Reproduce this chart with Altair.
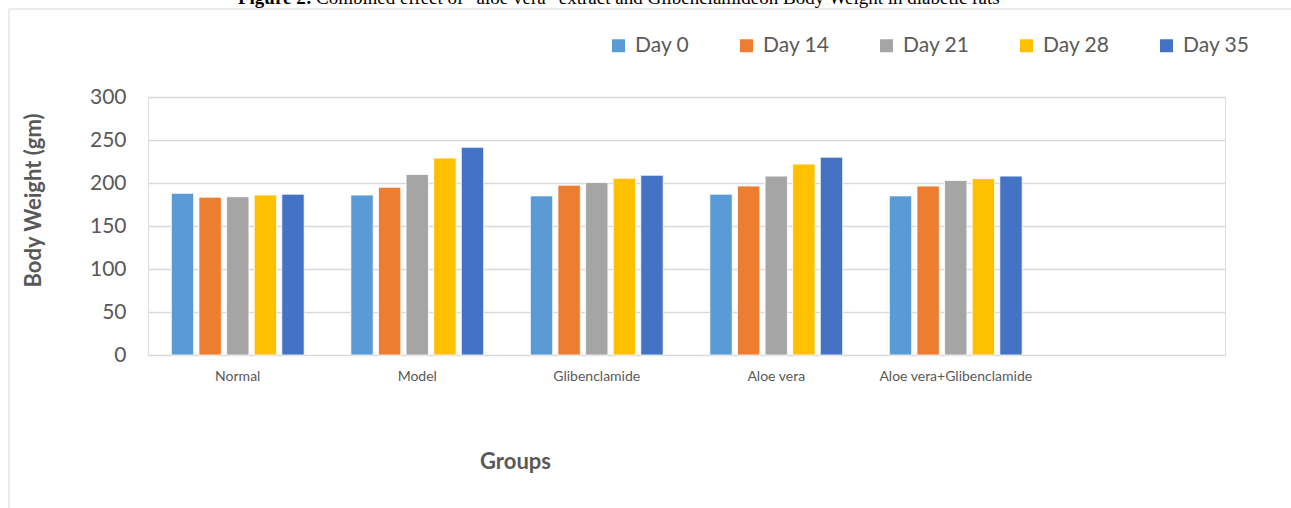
import altair as alt
import pandas as pd

# Treatment groups (a trailing blank slot keeps the empty sixth position on the axis)
groups = ["Normal", "Model", "Glibenclamide", "Aloe vera", "Aloe vera+Glibenclamide"]
axis_slots = groups + [" "]
days = ["Day 0", "Day 14", "Day 21", "Day 28", "Day 35"]
colors = ["#5B9BD5", "#ED7D31", "#A5A5A5", "#FFC000", "#4472C4"]

# Mean body weight (gm) per group, one list per day
day0 = [188, 186, 185, 187, 185]
day14 = [183.5, 195, 197.5, 196.5, 196.5]
day21 = [184, 210, 200.5, 208, 203]
day28 = [186, 229, 205.5, 222, 205]
day35 = [187, 241.5, 209, 230, 208]

series = [day0, day14, day21, day28, day35]
rows = []
for day, vals in zip(days, series):
    for g, v in zip(groups, vals):
        rows.append({"group": g, "day": day, "weight": v})
df = pd.DataFrame(rows)

FONT = "Lato"
GREY = "#595959"

bars = alt.Chart(df).mark_bar(stroke="white", strokeWidth=0.8).encode(
    x=alt.X(
        "group:N",
        sort=axis_slots,
        scale=alt.Scale(domain=axis_slots, paddingInner=0.26, paddingOuter=0.13),
        axis=alt.Axis(
            title="Groups",
            labelAngle=0,
            labelFont=FONT,
            labelFontSize=14,
            labelColor=GREY,
            labelPadding=14,
            domain=False,
            ticks=False,
            titleFont=FONT,
            titleFontSize=22,
            titleFontWeight="bold",
            titleColor=GREY,
            titleX=367,
            titleY=106,
            titleBaseline="middle",
            titleAlign="center",
        ),
    ),
    xOffset=alt.XOffset(
        "day:N", sort=days, scale=alt.Scale(domain=days, paddingInner=0.19, paddingOuter=0)
    ),
    y=alt.Y(
        "weight:Q",
        scale=alt.Scale(domain=[0, 300], nice=False),
        axis=alt.Axis(
            title="Body Weight (gm)",
            values=[0, 50, 100, 150, 200, 250, 300],
            labelFont=FONT,
            labelFontSize=21,
            labelColor=GREY,
            labelPadding=22,
            domain=False,
            ticks=False,
            grid=True,
            gridColor="#d9d9d9",
            gridWidth=1.5,
            titleFont=FONT,
            titleFontSize=22,
            titleFontWeight="bold",
            titleColor=GREY,
            titleAngle=270,
            titleX=-115,
            titleY=103,
            titleBaseline="middle",
            titleAlign="center",
        ),
    ),
    color=alt.Color(
        "day:N",
        sort=days,
        scale=alt.Scale(domain=days, range=colors),
        legend=alt.Legend(
            title=None,
            orient="none",
            direction="horizontal",
            columns=5,
            legendX=460,
            legendY=-62,
            symbolType="square",
            symbolSize=169,
            symbolStrokeWidth=0,
            labelFont=FONT,
            labelFontSize=21,
            labelColor=GREY,
            labelOffset=6,
            columnPadding=46,
        ),
    ),
)

# Outer frame of the figure
frame = alt.Chart(pd.DataFrame({"k": [0]})).mark_rect(
    fill=None, stroke="#d9d9d9", strokeWidth=1
).encode(
    x=alt.value(-139), x2=alt.value(1160), y=alt.value(-88), y2=alt.value(430)
)

# Figure caption above the chart
cap_bold = alt.Chart(pd.DataFrame({"t": ["Figure 2:"]})).mark_text(
    font="Liberation Serif", fontSize=19, fontWeight="bold", align="right",
    baseline="alphabetic", color="black"
).encode(text="t:N", x=alt.value(164), y=alt.value(-93))

cap_rest = alt.Chart(pd.DataFrame({"t": [
    "Combined effect of \u201caloe vera\u201d extract and Glibenclamideon Body Weight in diabetic rats"
]})).mark_text(
    font="Liberation Serif", fontSize=19, align="left", baseline="alphabetic", color="black"
).encode(text="t:N", x=alt.value(168), y=alt.value(-93))

chart = alt.layer(frame, bars, cap_bold, cap_rest).properties(
    width=1077,
    height=258,
    padding={"left": 148, "top": 97, "right": 66, "bottom": 153},
    autosize=alt.AutoSizeParams(type="none"),
).configure_view(stroke=None).configure(background="white")

chart.save("out.html", embed_options={"renderer": "svg", "actions": False})
